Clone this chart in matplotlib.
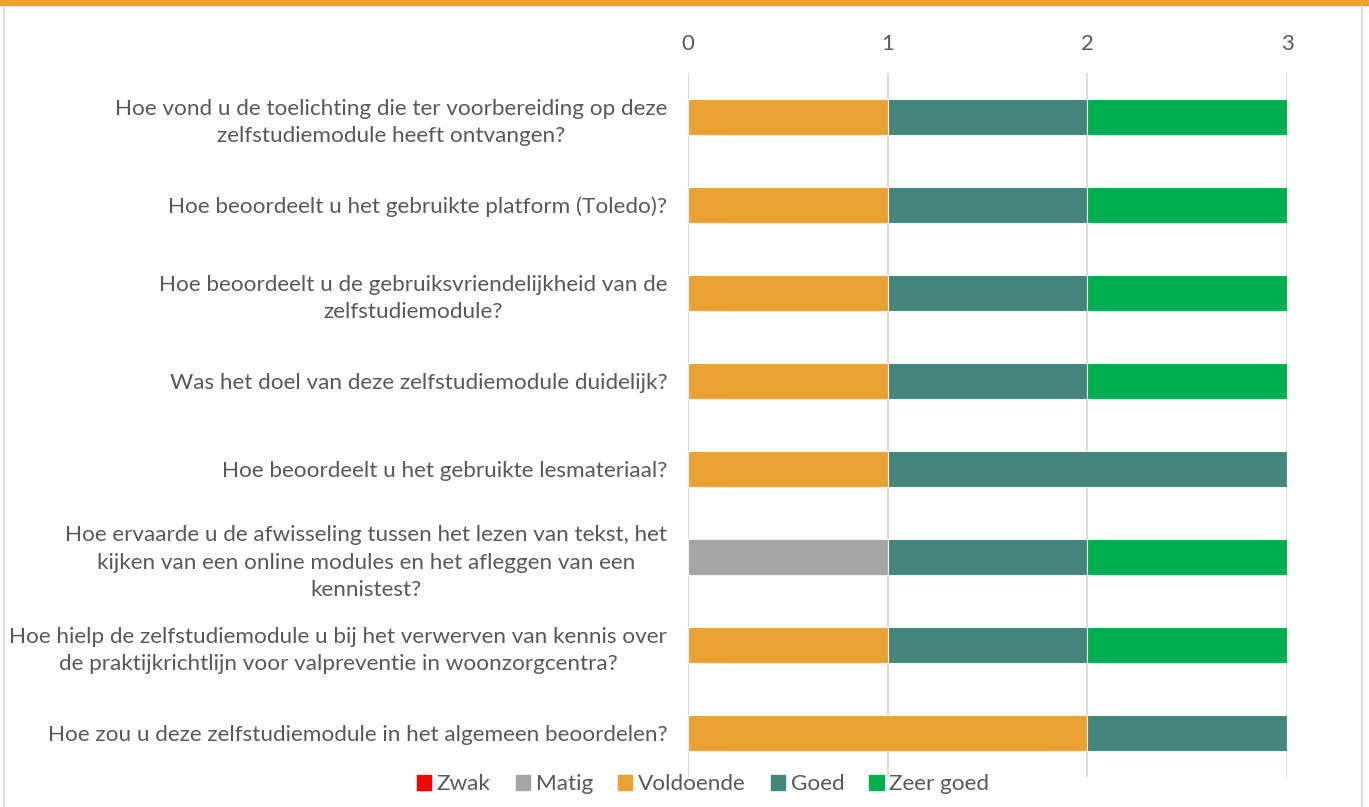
import numpy as np
import matplotlib
matplotlib.use("Agg")
import matplotlib.pyplot as plt
from matplotlib.patches import Rectangle
from matplotlib.lines import Line2D

questions = [
    "Hoe vond u de toelichting die ter voorbereiding op deze\nzelfstudiemodule heeft ontvangen?",
    "Hoe beoordeelt u het gebruikte platform (Toledo)?",
    "Hoe beoordeelt u de gebruiksvriendelijkheid van de\nzelfstudiemodule?",
    "Was het doel van deze zelfstudiemodule duidelijk?",
    "Hoe beoordeelt u het gebruikte lesmateriaal?",
    "Hoe ervaarde u de afwisseling tussen het lezen van tekst, het\nkijken van een online modules en het afleggen van een\nkennistest?",
    "Hoe hielp de zelfstudiemodule u bij het verwerven van kennis over\nde praktijkrichtlijn voor valpreventie in woonzorgcentra?",
    "Hoe zou u deze zelfstudiemodule in het algemeen beoordelen?",
]
categories = ["Zwak", "Matig", "Voldoende", "Goed", "Zeer goed"]
zwak = [0, 0, 0, 0, 0, 0, 0, 0]
matig = [0, 0, 0, 0, 0, 1, 0, 0]
voldoende = [1, 1, 1, 1, 1, 0, 1, 2]
goed = [1, 1, 1, 1, 2, 1, 1, 1]
zeer_goed = [1, 1, 1, 1, 0, 1, 1, 0]
x_ticks = [0, 1, 2, 3]

colors = ["#FF0000", "#A5A5A5", "#EAA035", "#43867D", "#00B050"]
text_col = "#595959"

plt.rcParams["font.family"] = ["Lato", "DejaVu Sans"]

fig = plt.figure(figsize=(13.69, 8.07), dpi=100)
ax = fig.add_axes([688 / 1369, 1 - 777 / 807, 599 / 1369, 704 / 807])

series = [zwak, matig, voldoende, goed, zeer_goed]
y = np.arange(len(questions))
left = np.zeros(len(questions))
for name, vals, col in zip(categories, series, colors):
    vals = np.array(vals, dtype=float)
    ax.barh(y, vals, left=left, height=0.4, color=col, edgecolor="#F2F2F2",
            linewidth=0.8, label=name, zorder=3)
    left += vals

ax.set_xlim(0, 3)
ax.set_ylim(len(questions) - 0.5, -0.5)
ax.set_xticks(x_ticks)
ax.xaxis.tick_top()
ax.tick_params(axis="x", length=0, pad=14, labelsize=16, labelcolor=text_col)
ax.set_yticks(y)
ax.set_yticklabels(questions, fontsize=16.2, color=text_col, multialignment="center",
                   linespacing=1.45)
ax.tick_params(axis="y", length=0, pad=15)
ax.grid(axis="x", color="#D9D9D9", linewidth=1.3, zorder=0)
for s in ax.spines.values():
    s.set_visible(False)

handles = [Rectangle((0, 0), 1, 1, color=c) for c in colors]
fig.legend(handles, categories, loc="center", bbox_to_anchor=(703 / 1369, 1 - 784 / 807),
           ncol=5, frameon=False, fontsize=16.2, labelcolor=text_col,
           handlelength=0.65, handleheight=0.65, handletextpad=0.25, columnspacing=1.1)

# chart frame: thin grey border with orange band on top
fig.patches.append(Rectangle((4 / 1369, -0.01), 1358 / 1369, 1.02, transform=fig.transFigure,
                             fill=False, edgecolor="#D9D9D9", linewidth=1.2))
fig.lines.append(Line2D([0, 1], [1 - 2.5 / 807, 1 - 2.5 / 807], transform=fig.transFigure,
                        color="#EAA035", linewidth=4.5))

fig.savefig("out.png", dpi=100, facecolor="white")
